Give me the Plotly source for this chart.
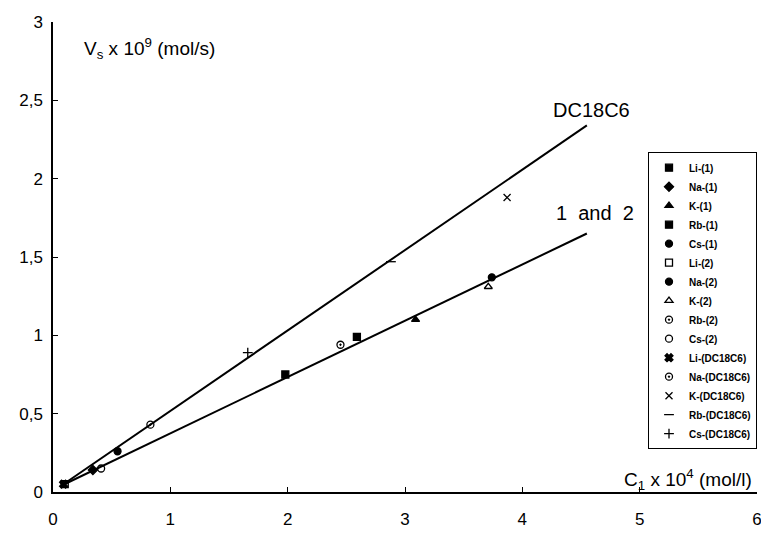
import plotly.graph_objects as go

# Data
series_names = ["Li-(1)", "Na-(1)", "K-(1)", "Rb-(1)", "Cs-(1)",
                "Li-(2)", "Na-(2)", "K-(2)", "Rb-(2)", "Cs-(2)",
                "Li-(DC18C6)", "Na-(DC18C6)", "K-(DC18C6)", "Rb-(DC18C6)", "Cs-(DC18C6)"]
series_x = [[1.98], [0.34], [3.09], [2.59], [3.74],
            [0.10], [0.55], [3.71], [2.45], [0.41],
            [0.09], [0.83], [3.87], [2.88], [1.66]]
series_y = [[0.75], [0.14], [1.10], [0.99], [1.37],
            [0.05], [0.26], [1.31], [0.94], [0.15],
            [0.05], [0.43], [1.88], [1.47], [0.89]]
symbols = ["square", "diamond", "triangle-up", "square", "circle",
           "square-open", "circle", "triangle-up-open", "circle-open-dot", "circle-open",
           "x", "circle-open-dot", "x-thin-open", "line-ew-open", "cross-thin-open"]

fit_dc_x = [0.07, 4.55]
fit_dc_y = [0.04, 2.34]
fit_12_x = [0.07, 4.55]
fit_12_y = [0.04, 1.65]

FONT = "Liberation Sans, Arial, sans-serif"

fig = go.Figure()
fig.add_trace(go.Scatter(x=fit_dc_x, y=fit_dc_y, mode="lines",
                         line=dict(color="black", width=2), showlegend=False, hoverinfo="skip"))
fig.add_trace(go.Scatter(x=fit_12_x, y=fit_12_y, mode="lines",
                         line=dict(color="black", width=2), showlegend=False, hoverinfo="skip"))
for n, xs, ys, s in zip(series_names, series_x, series_y, symbols):
    fig.add_trace(go.Scatter(x=xs, y=ys, mode="markers", name="<b>" + n + "</b>",
                             marker=dict(symbol=s, size=7, color="black",
                                         line=dict(color="black", width=1.3))))

fig.update_layout(
    width=761, height=535,
    margin=dict(l=53, r=4, t=22, b=43),
    paper_bgcolor="white", plot_bgcolor="white",
    separators=", ",
    font=dict(family=FONT, color="black", size=17),
    showlegend=True,
    legend=dict(x=1.0, y=0.723, xanchor="right", yanchor="top",
                bordercolor="black", borderwidth=1, bgcolor="white",
                font=dict(size=10, family=FONT),
                itemwidth=30, tracegroupgap=0),
    xaxis=dict(range=[0, 6], tickvals=[0, 1, 2, 3, 4, 5, 6], showgrid=False, zeroline=False,
               showline=True, linecolor="black", linewidth=1.5, automargin=False,
               ticks="inside", ticklen=5, tickcolor="black",
               ticklabelstandoff=11, ticklabeloverflow="allow", tickfont=dict(size=17)),
    yaxis=dict(range=[0, 3], tickvals=[0, 0.5, 1, 1.5, 2, 2.5, 3], showgrid=False, zeroline=False,
               showline=True, linecolor="black", linewidth=1.5, automargin=False,
               ticks="inside", ticklen=5, tickcolor="black",
               ticklabelstandoff=5, ticklabeloverflow="allow", tickfont=dict(size=17)),
    annotations=[
        dict(text="V<sub>s</sub> x 10<sup>9</sup> (mol/s)", x=0.25, y=2.83, xref="x", yref="y",
             xanchor="left", yanchor="middle", showarrow=False, font=dict(size=19)),
        dict(text="C<sub>1</sub> x 10<sup>4</sup> (mol/l)", x=0.996, y=0.08, xref="paper", yref="y",
             xanchor="right", yanchor="middle", showarrow=False, font=dict(size=19)),
        dict(text="DC18C6", x=4.59, y=2.44, xref="x", yref="y",
             xanchor="center", yanchor="middle", showarrow=False, font=dict(size=20)),
        dict(text="1  and  2", x=4.62, y=1.78, xref="x", yref="y",
             xanchor="center", yanchor="middle", showarrow=False, font=dict(size=20)),
    ],
)

fig.write_html("out.html")
